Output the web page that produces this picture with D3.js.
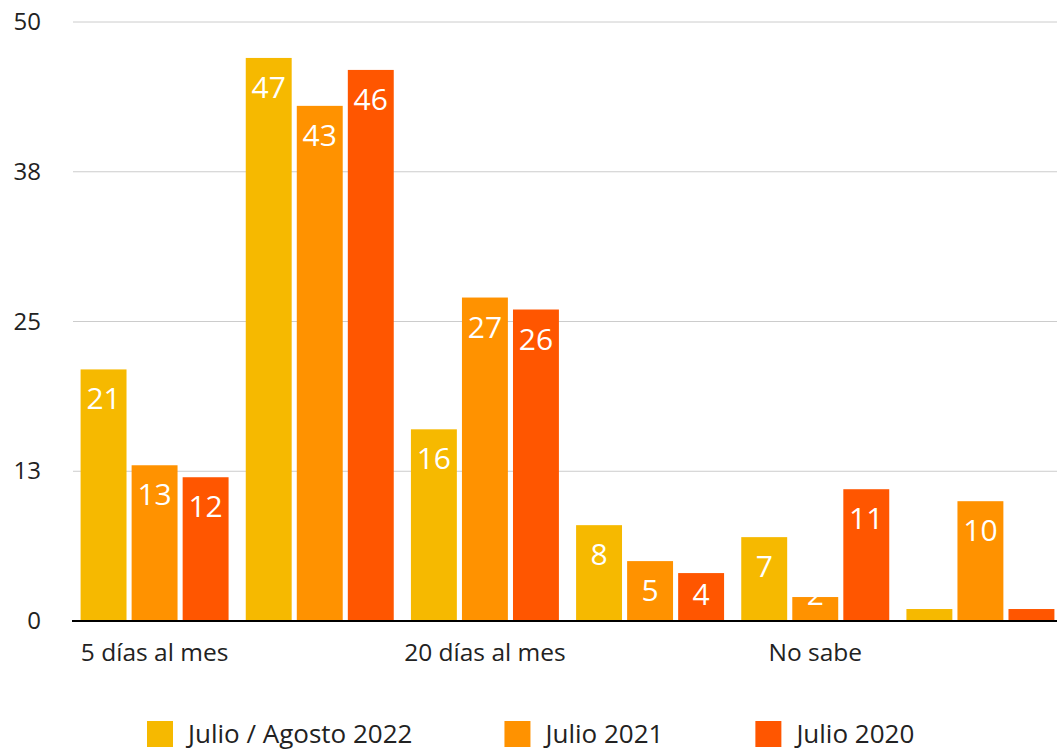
<!DOCTYPE html>
<html>
<head>
<meta charset="utf-8">
<script src="https://cdn.jsdelivr.net/npm/d3@7"></script>
<style>
  body { margin: 0; background: #fff; }
  text { font-family: "Open Sans", sans-serif; }
</style>
</head>
<body>
<div id="chart"></div>
<script>
// data
var categories = ["5 días al mes", "10 días al mes", "20 días al mes", "Todos los días", "No sabe", "No responde"];
var series = ["Julio / Agosto 2022", "Julio 2021", "Julio 2020"];
var values2022 = [21, 47, 16, 8, 7, 1];
var values2021 = [13, 43, 27, 5, 2, 10];
var values2020 = [12, 46, 26, 4, 11, 1];
var yTicks = [0, 12.5, 25, 37.5, 50];
var colors = ["#f6b900", "#ff9200", "#ff5600"];

var svgWidth = 1057;
var svgHeight = 751;

var svg = d3.select("#chart")
  .append("svg")
  .attr("width", svgWidth)
  .attr("height", svgHeight);

var allValues = [values2022, values2021, values2020];
var rows = categories.map((c, i) => ({
  category: c,
  vals: series.map((s, j) => ({ series: s, idx: j, value: allValues[j][i] }))
}));

// scales
var x0 = d3.scaleBand()
  .domain(categories)
  .range([72, 1063])
  .paddingInner(0.104)
  .paddingOuter(0.052);

var x1 = d3.scaleBand()
  .domain(series)
  .range([0, x0.bandwidth()])
  .paddingInner(0.1);

var y = d3.scaleLinear()
  .domain([0, 50])
  .range([621, 22]);

// gridlines
svg.append("g")
  .selectAll("line")
  .data(yTicks.slice(1))
  .enter()
  .append("line")
  .attr("x1", 73)
  .attr("x2", svgWidth)
  .attr("y1", d => y(d))
  .attr("y2", d => y(d))
  .attr("stroke", "#cccccc")
  .attr("stroke-width", 1);

// y axis labels
var yAxis = d3.axisLeft(y)
  .tickValues(yTicks)
  .tickSize(0)
  .tickPadding(0)
  .tickFormat(d => Math.round(d));

svg.append("g")
  .attr("transform", "translate(41, 0)")
  .call(yAxis)
  .call(g => g.select(".domain").remove())
  .selectAll("text")
  .attr("font-size", "24px")
  .attr("font-family", "Open Sans, sans-serif")
  .attr("fill", "#222");

// bars
var groups = svg.append("g")
  .selectAll("g")
  .data(rows)
  .enter()
  .append("g")
  .attr("transform", d => `translate(${x0(d.category)}, 0)`);

groups.selectAll("rect")
  .data(d => d.vals)
  .enter()
  .append("rect")
  .attr("x", d => x1(d.series))
  .attr("y", d => y(d.value))
  .attr("width", x1.bandwidth())
  .attr("height", d => y(0) - y(d.value))
  .attr("fill", d => colors[d.idx]);

// value labels inside bars
groups.selectAll("text")
  .data(d => d.vals)
  .enter()
  .append("text")
  .attr("x", d => x1(d.series) + x1.bandwidth() / 2)
  .attr("y", d => Math.min(y(d.value) + 40, y(0) - 16))
  .attr("text-anchor", "middle")
  .attr("font-size", "30px")
  .attr("fill", "#fff")
  .text(d => d.value);

// baseline
svg.append("line")
  .attr("x1", 72)
  .attr("x2", svgWidth)
  .attr("y1", y(0))
  .attr("y2", y(0))
  .attr("stroke", "#000")
  .attr("stroke-width", 2);

// category labels (every other one)
var xAxis = d3.axisBottom(x0)
  .tickSize(0)
  .tickPadding(0)
  .tickFormat((d, i) => i % 2 === 0 ? d : "");

svg.append("g")
  .attr("transform", `translate(0, ${y(0) + 23})`)
  .call(xAxis)
  .call(g => g.select(".domain").remove())
  .selectAll("text")
  .attr("font-size", "24.5px")
  .attr("font-family", "Open Sans, sans-serif")
  .attr("fill", "#222");

// legend
var legend = svg.append("g");
var lx = 147;
series.forEach((s, i) => {
  legend.append("rect")
    .attr("x", lx)
    .attr("y", 721)
    .attr("width", 26)
    .attr("height", 26)
    .attr("fill", colors[i]);
  var t = legend.append("text")
    .attr("x", lx + 41)
    .attr("y", 743)
    .attr("font-size", "26px")
    .attr("fill", "#222")
    .text(s);
  lx = lx + 41 + t.node().getComputedTextLength() + 92;
});
</script>
</body>
</html>
